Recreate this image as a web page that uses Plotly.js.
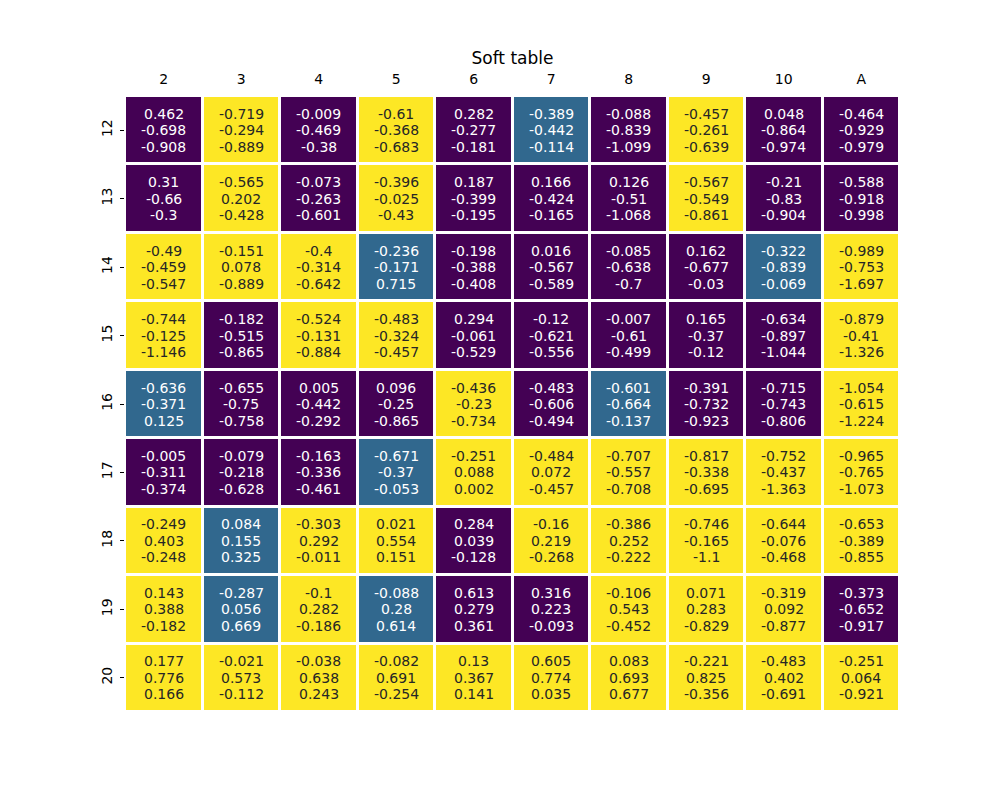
<!DOCTYPE html>
<html>
<head>
<meta charset="utf-8">
<script src="https://cdn.plot.ly/plotly-3.0.1.min.js"></script>
<style>body{margin:0;padding:0;background:#fff;}#chart{width:1000px;height:800px;}</style>
</head>
<body>
<div id="chart"></div>
<script>
const dealerCards = ["2","3","4","5","6","7","8","9","10","A"];
const playerSums = ["12","13","14","15","16","17","18","19","20"];

// value of action 0 (first line) per cell, rows = player sums 12..20
const action0 = [
  [0.462,-0.719,-0.009,-0.61,0.282,-0.389,-0.088,-0.457,0.048,-0.464],
  [0.31,-0.565,-0.073,-0.396,0.187,0.166,0.126,-0.567,-0.21,-0.588],
  [-0.49,-0.151,-0.4,-0.236,-0.198,0.016,-0.085,0.162,-0.322,-0.989],
  [-0.744,-0.182,-0.524,-0.483,0.294,-0.12,-0.007,0.165,-0.634,-0.879],
  [-0.636,-0.655,0.005,0.096,-0.436,-0.483,-0.601,-0.391,-0.715,-1.054],
  [-0.005,-0.079,-0.163,-0.671,-0.251,-0.484,-0.707,-0.817,-0.752,-0.965],
  [-0.249,0.084,-0.303,0.021,0.284,-0.16,-0.386,-0.746,-0.644,-0.653],
  [0.143,-0.287,-0.1,-0.088,0.613,0.316,-0.106,0.071,-0.319,-0.373],
  [0.177,-0.021,-0.038,-0.082,0.13,0.605,0.083,-0.221,-0.483,-0.251]
];
// value of action 1 (second line)
const action1 = [
  [-0.698,-0.294,-0.469,-0.368,-0.277,-0.442,-0.839,-0.261,-0.864,-0.929],
  [-0.66,0.202,-0.263,-0.025,-0.399,-0.424,-0.51,-0.549,-0.83,-0.918],
  [-0.459,0.078,-0.314,-0.171,-0.388,-0.567,-0.638,-0.677,-0.839,-0.753],
  [-0.125,-0.515,-0.131,-0.324,-0.061,-0.621,-0.61,-0.37,-0.897,-0.41],
  [-0.371,-0.75,-0.442,-0.25,-0.23,-0.606,-0.664,-0.732,-0.743,-0.615],
  [-0.311,-0.218,-0.336,-0.37,0.088,0.072,-0.557,-0.338,-0.437,-0.765],
  [0.403,0.155,0.292,0.554,0.039,0.219,0.252,-0.165,-0.076,-0.389],
  [0.388,0.056,0.282,0.28,0.279,0.223,0.543,0.283,0.092,-0.652],
  [0.776,0.573,0.638,0.691,0.367,0.774,0.693,0.825,0.402,0.064]
];
// value of action 2 (third line)
const action2 = [
  [-0.908,-0.889,-0.38,-0.683,-0.181,-0.114,-1.099,-0.639,-0.974,-0.979],
  [-0.3,-0.428,-0.601,-0.43,-0.195,-0.165,-1.068,-0.861,-0.904,-0.998],
  [-0.547,-0.889,-0.642,0.715,-0.408,-0.589,-0.7,-0.03,-0.069,-1.697],
  [-1.146,-0.865,-0.884,-0.457,-0.529,-0.556,-0.499,-0.12,-1.044,-1.326],
  [0.125,-0.758,-0.292,-0.865,-0.734,-0.494,-0.137,-0.923,-0.806,-1.224],
  [-0.374,-0.628,-0.461,-0.053,0.002,-0.457,-0.708,-0.695,-1.363,-1.073],
  [-0.248,0.325,-0.011,0.151,-0.128,-0.268,-0.222,-1.1,-0.468,-0.855],
  [-0.182,0.669,-0.186,0.614,0.361,-0.093,-0.452,-0.829,-0.877,-0.917],
  [0.166,-0.112,0.243,-0.254,0.141,0.035,0.677,-0.356,-0.691,-0.921]
];

const actionColors = ["#440154", "#fde725", "#31688e"];

// best action per cell = index of the largest value
const best = playerSums.map((_, i) => dealerCards.map((_, j) => {
  const v = [action0[i][j], action1[i][j], action2[i][j]];
  let b = 0;
  for (let k = 1; k < 3; k++) if (v[k] > v[b]) b = k;
  return b;
}));

const trace = {
  type: "heatmap",
  x: dealerCards,
  y: playerSums,
  z: best,
  zmin: 0, zmax: 2,
  colorscale: [
    [0, actionColors[0]], [0.3333, actionColors[0]],
    [0.3333, actionColors[1]], [0.6667, actionColors[1]],
    [0.6667, actionColors[2]], [1, actionColors[2]]
  ],
  showscale: false,
  xgap: 3, ygap: 3,
  hoverinfo: "skip"
};

// annotations positioned by category index on the category axes, one per line
const annotations = [];
const lineSets = [action0, action1, action2];
const shifts = [16.5, 0, -16.5];
playerSums.forEach((ps, i) => {
  dealerCards.forEach((dc, j) => {
    const b = best[i][j];
    lineSets.forEach((arr, k) => {
      annotations.push({
        x: j, y: i, xref: "x", yref: "y", yshift: shifts[k],
        text: String(arr[i][j]),
        showarrow: false,
        font: {family: "DejaVu Sans", size: 14, color: b === 1 ? "#262626" : "#ffffff"},
        align: "center"
      });
    });
  });
});

const layout = {
  width: 1000, height: 800,
  margin: {l: 125, r: 100, t: 96, b: 88},
  paper_bgcolor: "#ffffff", plot_bgcolor: "#ffffff",
  font: {family: "DejaVu Sans", size: 14, color: "#000"},
  title: {text: "Soft table", font: {family: "DejaVu Sans", size: 17, color: "#000"},
          x: 0.5, xanchor: "center", y: 0.9275, yanchor: "middle", xref: "paper"},
  xaxis: {side: "top", type: "category", range: [-0.5, dealerCards.length - 0.5], autorange: false,
          ticks: "", showgrid: false, zeroline: false,
          showline: false, tickfont: {size: 14}, ticklabelstandoff: 8, fixedrange: true},
  yaxis: {type: "category", range: [playerSums.length - 0.5, -0.5], autorange: false,
          ticks: "outside", ticklen: 4, tickwidth: 1,
          tickcolor: "#000", showgrid: false, zeroline: false, showline: false,
          tickangle: -90, tickfont: {size: 14}, ticklabelstandoff: 2, fixedrange: true},
  annotations: annotations
};

Plotly.newPlot("chart", [trace], layout, {displayModeBar: false, staticPlot: true});
</script>
</body>
</html>
